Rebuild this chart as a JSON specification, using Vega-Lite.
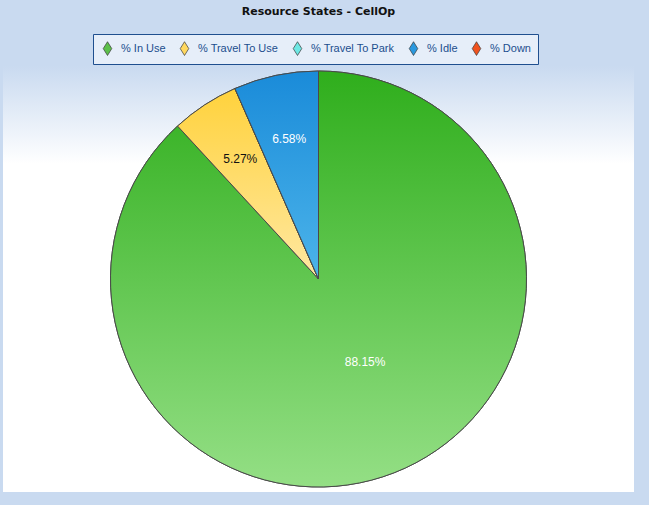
{
  "$schema": "https://vega.github.io/schema/vega-lite/v6.json",
  "width": 631,
  "height": 426,
  "autosize": {"type": "none"},
  "padding": {"left": 3, "top": 66, "right": 15, "bottom": 13},
  "background": "#c9daf0",
  "title": {
    "text": "Resource States - CellOp",
    "anchor": "middle",
    "frame": "group",
    "offset": 17,
    "font": "DejaVu Sans",
    "fontSize": 11,
    "fontWeight": "bold",
    "color": "#111111"
  },
  "config": {"view": {"stroke": null}},
  "data": {
    "values": [
      {"state": "% In Use", "pct": 88.15, "label": "88.15%", "ord": 1},
      {"state": "% Travel To Use", "pct": 5.27, "label": "5.27%", "ord": 2},
      {"state": "% Travel To Park", "pct": 0, "label": "", "ord": 3},
      {"state": "% Idle", "pct": 6.58, "label": "6.58%", "ord": 4},
      {"state": "% Down", "pct": 0, "label": "", "ord": 5}
    ]
  },
  "layer": [
    {
      "data": {"values": [{"bg": "window"}]},
      "mark": {
        "type": "rect",
        "fill": {
          "gradient": "linear",
          "x1": 0, "y1": 0, "x2": 0, "y2": 1,
          "stops": [
            {"offset": 0, "color": "#c9daf0"},
            {"offset": 0.23, "color": "#ffffff"},
            {"offset": 1, "color": "#ffffff"}
          ]
        }
      },
      "encoding": {}
    },
    {
      "mark": {"type": "arc", "outerRadius": 208, "stroke": "#4a4a4a", "strokeWidth": 1},
      "encoding": {
        "theta": {"field": "pct", "type": "quantitative", "stack": true},
        "order": {"field": "ord", "type": "quantitative"},
        "color": {
          "field": "state",
          "type": "nominal",
          "sort": ["% In Use", "% Travel To Use", "% Travel To Park", "% Idle", "% Down"],
          "scale": {
            "domain": ["% In Use", "% Travel To Use", "% Travel To Park", "% Idle", "% Down"],
            "range": ["#5cc04a", "#ffd860", "#6ee8e4", "#2a98de", "#f0521e"]
          },
          "legend": {
            "title": null,
            "orient": "none",
            "legendX": 90,
            "legendY": -32,
            "direction": "horizontal",
            "columns": 5,
            "padding": 7,
            "fillColor": "#e6eef9",
            "strokeColor": "#1f4f8f",
            "symbolType": "M0,-1L0.62,0L0,1L-0.62,0Z",
            "symbolSize": 190,
            "symbolStrokeColor": "#3a3a3a",
            "symbolStrokeWidth": 0.7,
            "labelFont": "Liberation Sans",
            "labelFontSize": 11,
            "labelColor": "#1d4f8e",
            "labelOffset": 6,
            "columnPadding": 11
          }
        }
      }
    },
    {
      "mark": {"type": "arc", "outerRadius": 208, "stroke": "#4a4a4a", "strokeWidth": 1},
      "encoding": {
        "theta": {"field": "pct", "type": "quantitative", "stack": true},
        "order": {"field": "ord", "type": "quantitative"},
        "fill": {
          "condition": [
            {"test": "datum.state === '% Travel To Use'", "value": {"gradient": "linear", "x1": 0, "y1": 0, "x2": 0, "y2": 1, "stops": [{"offset": 0, "color": "#ffd23c"}, {"offset": 1, "color": "#ffe8a2"}]}},
            {"test": "datum.state === '% Idle'", "value": {"gradient": "linear", "x1": 0, "y1": 0, "x2": 0, "y2": 1, "stops": [{"offset": 0, "color": "#1a8bd9"}, {"offset": 1, "color": "#4cb4ea"}]}}
          ],
          "value": {"gradient": "linear", "x1": 0, "y1": 0, "x2": 0, "y2": 1, "stops": [{"offset": 0, "color": "#2fae1c"}, {"offset": 1, "color": "#94df85"}]}
        }
      }
    },
    {
      "mark": {"type": "text", "radius": 95, "thetaOffset": -0.14, "font": "Liberation Sans", "fontSize": 12, "color": "#ffffff"},
      "encoding": {
        "theta": {"field": "pct", "type": "quantitative", "stack": true},
        "order": {"field": "ord", "type": "quantitative"},
        "text": {"condition": {"test": "datum.pct > 50", "field": "label"}, "value": ""}
      }
    },
    {
      "mark": {"type": "text", "radius": 143, "font": "Liberation Sans", "fontSize": 12},
      "encoding": {
        "theta": {"field": "pct", "type": "quantitative", "stack": true},
        "order": {"field": "ord", "type": "quantitative"},
        "text": {"condition": {"test": "datum.pct < 50", "field": "label"}, "value": ""},
        "color": {"condition": {"test": "datum.state === '% Travel To Use'", "value": "#111111"}, "value": "#ffffff"}
      }
    }
  ]
}
